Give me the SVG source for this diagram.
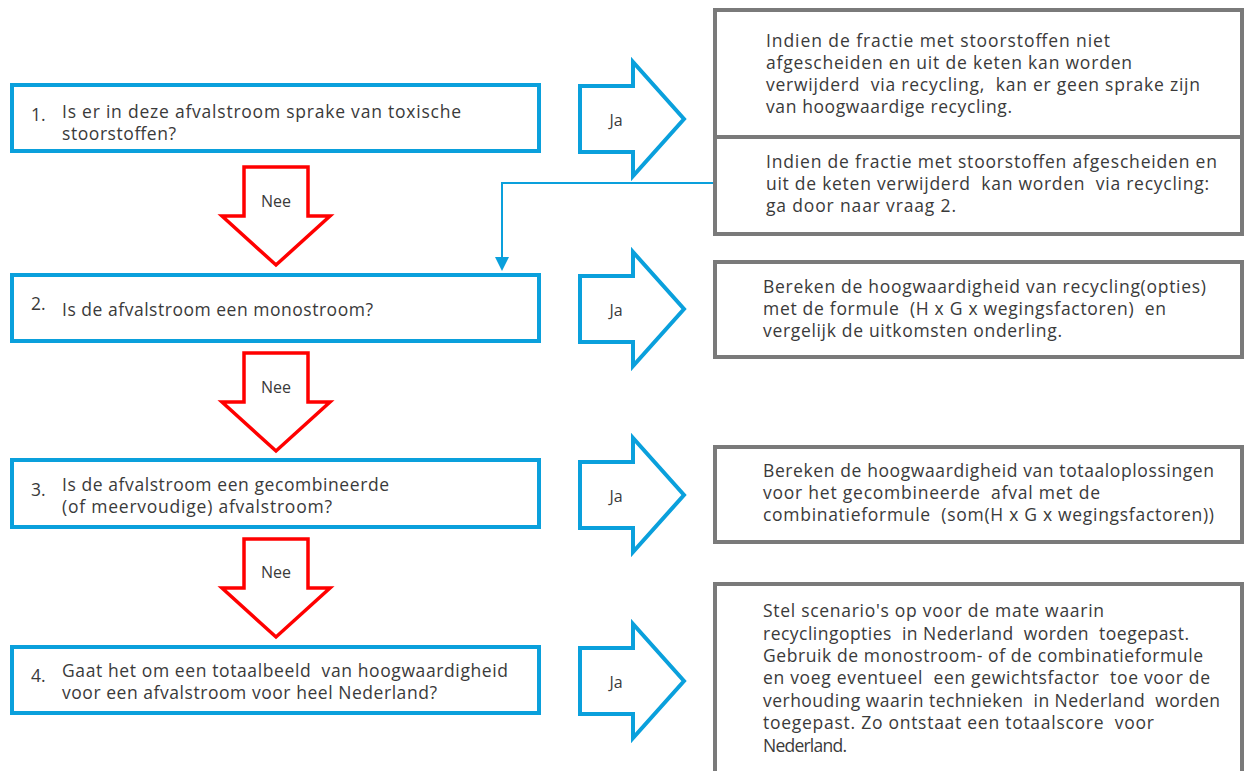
<svg xmlns="http://www.w3.org/2000/svg" width="1244" height="771" viewBox="0 0 1244 771">
<defs>
<style>
.t{font-family:"Open Sans","Liberation Sans",sans-serif;font-size:17.5px;fill:#3a3a3a;white-space:pre}
.lbl{font-family:"Open Sans","Liberation Sans",sans-serif;font-size:16px;fill:#3a3a3a;text-anchor:middle}
.q{fill:#fff;stroke:#0aa0dc;stroke-width:4}
.a{fill:#fff;stroke:#7a7a7a;stroke-width:4}
.ja{fill:#fff;stroke:#0aa0dc;stroke-width:4;stroke-linejoin:miter}
.nee{fill:#fff;stroke:#ff0000;stroke-width:3.5;stroke-linejoin:miter}
</style>
</defs>
<rect width="1244" height="771" fill="#fff"/>

<g id="q1">
<rect class="q" x="12" y="85" width="527" height="66"/>
<text class="t" x="31" y="121">1.</text>
<text class="t" x="62" y="118" textLength="399" lengthAdjust="spacing">Is er in deze afvalstroom sprake van toxische</text>
<text class="t" x="62" y="140" textLength="114" lengthAdjust="spacing">stoorstoffen?</text>
</g>
<g id="q2">
<rect class="q" x="12" y="275" width="527" height="66"/>
<text class="t" x="31" y="310">2.</text>
<text class="t" x="62" y="316" textLength="311" lengthAdjust="spacing">Is de afvalstroom een monostroom?</text>
</g>
<g id="q3">
<rect class="q" x="12" y="460" width="527" height="67"/>
<text class="t" x="31" y="496">3.</text>
<text class="t" x="62" y="491" textLength="327" lengthAdjust="spacing">Is de afvalstroom een gecombineerde</text>
<text class="t" x="62" y="513" textLength="270" lengthAdjust="spacing">(of meervoudige) afvalstroom?</text>
</g>
<g id="q4">
<rect class="q" x="12" y="647" width="527" height="66"/>
<text class="t" x="31" y="682">4.</text>
<text class="t" x="62" y="677" textLength="446" lengthAdjust="spacing">Gaat het om een totaalbeeld  van hoogwaardigheid</text>
<text class="t" x="62" y="699" textLength="375" lengthAdjust="spacing">voor een afvalstroom voor heel Nederland?</text>
</g>

<g id="nee1">
<path class="nee" d="M244,167 H308 V216 H330 L276,265 L222,216 H244 Z"/>
<text class="lbl" x="276" y="207">Nee</text>
</g>
<g id="nee2">
<path class="nee" d="M244,353 H308 V402 H330 L276,451 L222,402 H244 Z"/>
<text class="lbl" x="276" y="393">Nee</text>
</g>
<g id="nee3">
<path class="nee" d="M244,539 H308 V588 H330 L276,637 L222,588 H244 Z"/>
<text class="lbl" x="276" y="578">Nee</text>
</g>

<g id="ja1">
<path class="ja" d="M580,86 H633 V62 L684,119 L633,176 V152 H580 Z"/>
<text class="lbl" x="616" y="126">Ja</text>
</g>
<g id="ja2">
<path class="ja" d="M580,276 H633 V252 L684,309 L633,366 V342 H580 Z"/>
<text class="lbl" x="616" y="316">Ja</text>
</g>
<g id="ja3">
<path class="ja" d="M580,462 H633 V438 L684,495 L633,552 V528 H580 Z"/>
<text class="lbl" x="616" y="502">Ja</text>
</g>
<g id="ja4">
<path class="ja" d="M580,648 H633 V624 L684,681 L633,738 V714 H580 Z"/>
<text class="lbl" x="616" y="688">Ja</text>
</g>

<g id="a1">
<rect class="a" x="715" y="10" width="527" height="224"/>
<line x1="715" y1="137" x2="1242" y2="137" stroke="#7a7a7a" stroke-width="4"/>
<text class="t" x="766" y="47" textLength="344" lengthAdjust="spacing">Indien de fractie met stoorstoffen niet</text>
<text class="t" x="766" y="69" textLength="366" lengthAdjust="spacing">afgescheiden en uit de keten kan worden</text>
<text class="t" x="766" y="91" textLength="434" lengthAdjust="spacing">verwijderd  via recycling,  kan er geen sprake zijn</text>
<text class="t" x="766" y="113" textLength="246" lengthAdjust="spacing">van hoogwaardige recycling.</text>
<text class="t" x="766" y="168" textLength="451" lengthAdjust="spacing">Indien de fractie met stoorstoffen afgescheiden en</text>
<text class="t" x="766" y="190" textLength="443" lengthAdjust="spacing">uit de keten verwijderd  kan worden  via recycling:</text>
<text class="t" x="766" y="212" textLength="190" lengthAdjust="spacing">ga door naar vraag 2.</text>
</g>
<g id="a2">
<rect class="a" x="715" y="262" width="527" height="95"/>
<text class="t" x="763" y="293" textLength="443" lengthAdjust="spacing">Bereken de hoogwaardigheid van recycling(opties)</text>
<text class="t" x="763" y="315" textLength="403" lengthAdjust="spacing">met de formule  (H x G x wegingsfactoren)  en</text>
<text class="t" x="763" y="337" textLength="299" lengthAdjust="spacing">vergelijk de uitkomsten onderling.</text>
</g>
<g id="a3">
<rect class="a" x="715" y="447" width="527" height="95"/>
<text class="t" x="763" y="477" textLength="451" lengthAdjust="spacing">Bereken de hoogwaardigheid van totaaloplossingen</text>
<text class="t" x="763" y="499" textLength="337" lengthAdjust="spacing">voor het gecombineerde  afval met de</text>
<text class="t" x="763" y="521" textLength="451" lengthAdjust="spacing">combinatieformule  (som(H x G x wegingsfactoren))</text>
</g>
<g id="a4">
<rect class="a" x="715" y="584" width="527" height="220"/>
<text class="t" x="763" y="617" textLength="341" lengthAdjust="spacing">Stel scenario's op voor de mate waarin</text>
<text class="t" x="763" y="640" textLength="426" lengthAdjust="spacing">recyclingopties  in Nederland  worden  toegepast.</text>
<text class="t" x="763" y="662" textLength="440" lengthAdjust="spacing">Gebruik de monostroom- of de combinatieformule</text>
<text class="t" x="763" y="684" textLength="447" lengthAdjust="spacing">en voeg eventueel  een gewichtsfactor  toe voor de</text>
<text class="t" x="763" y="707" textLength="457" lengthAdjust="spacing">verhouding waarin technieken  in Nederland  worden</text>
<text class="t" x="763" y="729" textLength="391" lengthAdjust="spacing">toegepast. Zo ontstaat een totaalscore  voor</text>
<text class="t" x="763" y="752" textLength="84" lengthAdjust="spacing">Nederland.</text>
</g>

<g id="connectors">
<polyline points="713,183 502,183 502,258" fill="none" stroke="#0aa0dc" stroke-width="2"/>
<polygon points="495,257 509,257 502,271" fill="#0aa0dc"/>
</g>
</svg>
